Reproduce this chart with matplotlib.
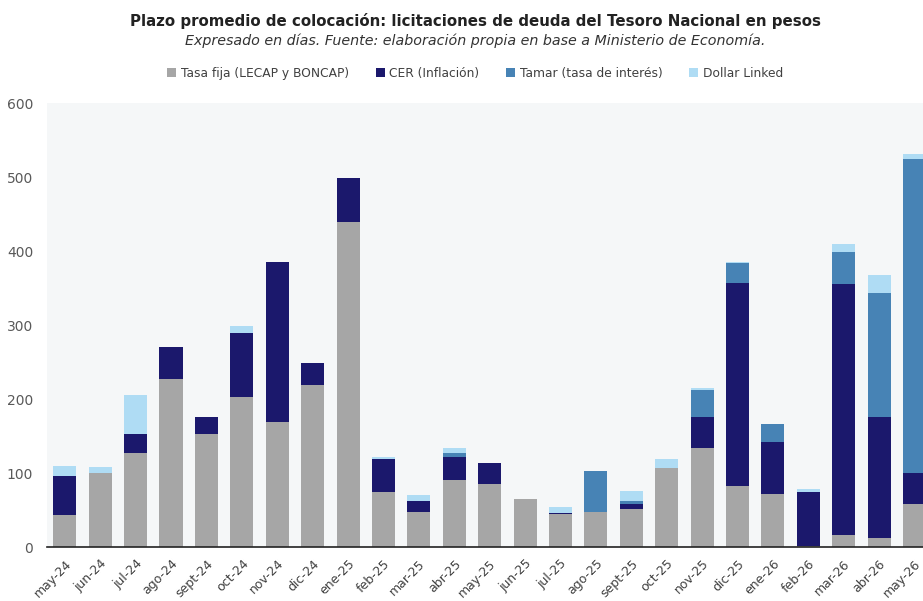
import numpy as np
import matplotlib.pyplot as plt
import matplotlib

matplotlib.rcParams['font.family'] = ['DejaVu Sans']

meses = ['may-24', 'jun-24', 'jul-24', 'ago-24', 'sept-24', 'oct-24', 'nov-24', 'dic-24',
         'ene-25', 'feb-25', 'mar-25', 'abr-25', 'may-25', 'jun-25', 'jul-25', 'ago-25',
         'sept-25', 'oct-25', 'nov-25', 'dic-25', 'ene-26', 'feb-26', 'mar-26', 'abr-26', 'may-26']

tasa_fija = [44, 101, 128, 228, 153, 203, 169, 219, 440, 75, 48, 91, 86, 65, 45, 48,
             52, 107, 134, 83, 72, 2, 17, 12, 58]
cer = [53, 0, 25, 42, 23, 87, 217, 30, 59, 44, 14, 31, 28, 0, 2, 0,
       6, 0, 42, 274, 70, 73, 339, 164, 42]
tamar = [0, 0, 0, 0, 0, 0, 0, 0, 0, 0, 0, 6, 0, 0, 0, 55,
         4, 0, 37, 27, 25, 0, 43, 168, 424]
dollar_linked = [13, 8, 53, 0, 0, 9, 0, 0, 0, 3, 9, 6, 0, 0, 8, 0,
                 14, 12, 2, 1, 0, 4, 11, 24, 8]

series = [(tasa_fija, '#a6a6a6', 'Tasa fija (LECAP y BONCAP)'),
          (cer, '#1b186c', 'CER (Inflación)'),
          (tamar, '#4783b5', 'Tamar (tasa de interés)'),
          (dollar_linked, '#afdcf4', 'Dollar Linked')]

fig = plt.figure(figsize=(9.23, 6.01), dpi=100)
ax = fig.add_axes([0.051, 0.0893, 0.959, 0.739])
ax.set_facecolor('#f5f7f8')

x = np.arange(len(meses))
base = np.zeros(len(meses))
for vals, col, lab in series:
    ax.bar(x, vals, 0.65, bottom=base, color=col, label=lab)
    base += np.array(vals)

ax.set_xlim(-0.5, len(meses) - 0.5)
ax.set_ylim(0, 600)
ax.set_yticks(range(0, 601, 100))
ax.set_xticks(x)
ax.set_xticklabels(meses, rotation=45, ha='right', rotation_mode='anchor', fontsize=9, color='#404040')
ax.tick_params(axis='y', length=0, labelsize=10, colors='#595959', pad=10)
ax.tick_params(axis='x', length=0, pad=7)
for s in ['top', 'right', 'left']:
    ax.spines[s].set_visible(False)
ax.spines['bottom'].set_color('#222222')
ax.spines['bottom'].set_linewidth(1.2)

fig.text(0.515, 0.965, 'Plazo promedio de colocación: licitaciones de deuda del Tesoro Nacional en pesos',
         ha='center', va='center', fontsize=10.8, fontweight='bold', color='#222222')
fig.text(0.515, 0.932, 'Expresado en días. Fuente: elaboración propia en base a Ministerio de Economía.',
         ha='center', va='center', fontsize=10.3, style='italic', color='#333333')

fig.legend(loc='center', bbox_to_anchor=(0.515, 0.878), ncol=4, frameon=False,
           fontsize=8.8, handlelength=0.7, handleheight=0.7, handletextpad=0.4,
           columnspacing=2.2, labelcolor='#404040')

plt.savefig('out.png', dpi=100, facecolor='white')
